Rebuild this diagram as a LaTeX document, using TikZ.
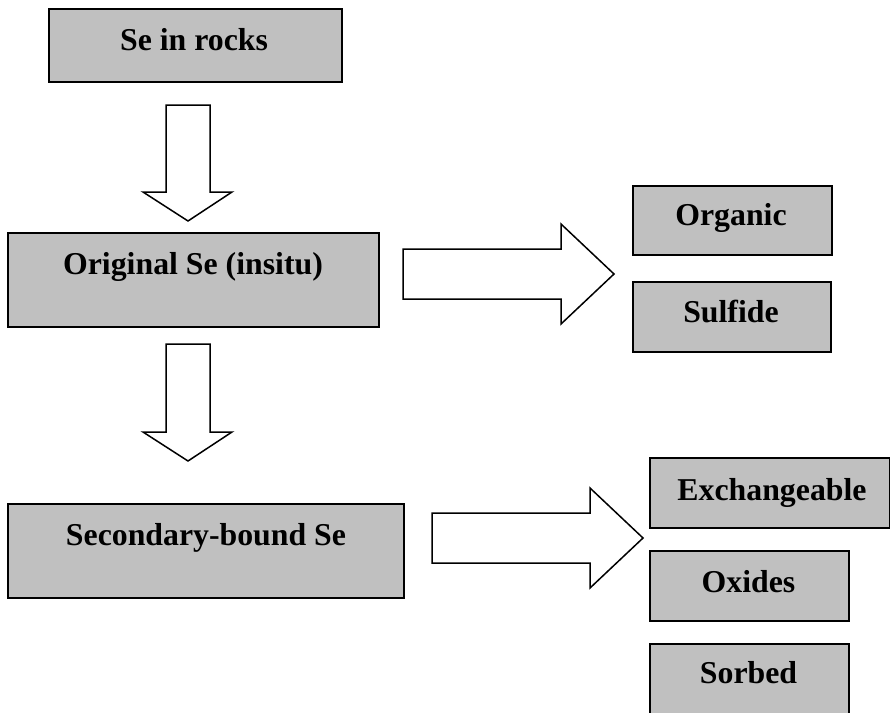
\documentclass[tikz,border=0pt]{standalone}
\usepackage{fontspec}
\setmainfont{Liberation Serif}
\definecolor{boxgray}{HTML}{C0C0C0}
\begin{document}
\begin{tikzpicture}[x=1pt,y=-1pt,
  box/.style={draw=black, line width=2.2pt, fill=boxgray, inner sep=0pt, anchor=north west},
  lbl/.style={font=\bfseries\fontsize{31.8}{38}\selectfont, anchor=base, inner sep=0pt},
  blockarrow/.style={draw=black, line width=1.5pt, fill=white, line join=miter}]
\useasboundingbox (0,0) rectangle (890,712);
% boxes
\node[box, minimum width=293pt, minimum height=73pt] (rocks) at (48,8) {};
\node[box, minimum width=371pt, minimum height=94pt] (orig) at (7,232) {};
\node[box, minimum width=199pt, minimum height=69pt] (organic) at (632,185) {};
\node[box, minimum width=198pt, minimum height=70pt] (sulfide) at (632,281) {};
\node[box, minimum width=396pt, minimum height=94pt] (second) at (7,503) {};
\node[box, minimum width=240pt, minimum height=70pt] (exch) at (649,457) {};
\node[box, minimum width=199pt, minimum height=70pt] (oxides) at (649,550) {};
\node[box, minimum width=199pt, minimum height=80pt] (sorbed) at (649,643) {};
% labels
\node[lbl] (trocks) at (194,50) {Se in rocks};
\node[lbl] (torig) at (193,274) {Original Se (insitu)};
\node[lbl] (torganic) at (731,225) {Organic};
\node[lbl] (tsulfide) at (731,322) {Sulfide};
\node[lbl] (tsecond) at (206,545) {Secondary-bound Se};
\node[lbl] (texch) at (772,500) {Exchangeable};
\node[lbl] (toxides) at (748.5,592) {Oxides};
\node[lbl] (tsorbed) at (748.5,683) {Sorbed};
% block arrows
\draw[blockarrow] (166,105) -- (210,105) -- (210,192) -- (232,192) -- (188,221) -- (143,192) -- (166,192) -- cycle;
\draw[blockarrow] (166,344) -- (210,344) -- (210,432) -- (232,432) -- (188,461) -- (143,432) -- (166,432) -- cycle;
\draw[blockarrow] (403,249) -- (561,249) -- (561,224) -- (614,274) -- (561,324) -- (561,299) -- (403,299) -- cycle;
\draw[blockarrow] (432,513) -- (590,513) -- (590,488) -- (643,538) -- (590,588) -- (590,563) -- (432,563) -- cycle;
\end{tikzpicture}
\end{document}
